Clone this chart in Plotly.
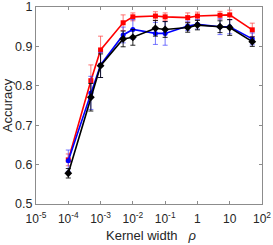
import plotly.graph_objects as go

kernel_width = [1e-4, 5e-4, 1e-3, 5e-3, 1e-2, 5e-2, 0.1, 0.5, 1, 5, 10, 50]

red_acc = [0.612, 0.813, 0.891, 0.960, 0.975, 0.977, 0.975, 0.973, 0.977, 0.979, 0.980, 0.942]
red_err = [0.015, 0.040, 0.035, 0.020, 0.010, 0.011, 0.010, 0.012, 0.010, 0.010, 0.012, 0.017]

blue_acc = [0.610, 0.782, 0.853, 0.929, 0.943, 0.933, 0.933, 0.952, 0.956, 0.950, 0.950, 0.919]
blue_err = [0.027, 0.042, 0.032, 0.020, 0.025, 0.028, 0.030, 0.012, 0.012, 0.020, 0.018, 0.015]

black_acc = [0.578, 0.771, 0.851, 0.919, 0.923, 0.946, 0.943, 0.948, 0.954, 0.950, 0.948, 0.912]
black_err = [0.012, 0.035, 0.030, 0.020, 0.020, 0.020, 0.020, 0.012, 0.012, 0.015, 0.020, 0.012]

x_tickvals = [1e-5, 1e-4, 1e-3, 1e-2, 1e-1, 1, 10, 100]
x_ticktext = ["10<sup>-5</sup>", "10<sup>-4</sup>", "10<sup>-3</sup>", "10<sup>-2</sup>",
              "10<sup>-1</sup>", "1", "10", "10<sup>2</sup>"]
y_tickvals = [0.5, 0.6, 0.7, 0.8, 0.9, 1.0]
y_ticktext = ["0.5", "0.6", "0.7", "0.8", "0.9", "1"]

fig = go.Figure()

series = [
    (red_acc, red_err, "#ff0000", "rgba(255,60,60,0.7)", "square", 5),
    (blue_acc, blue_err, "#0000ff", "rgba(60,60,255,0.7)", "circle", 5),
    (black_acc, black_err, "#000000", "rgba(0,0,0,0.85)", "diamond", 6),
]
for acc, err, col, ecol, sym, ms in series:
    fig.add_trace(go.Scatter(
        x=kernel_width, y=acc, mode="lines+markers",
        line=dict(color=col, width=1.6),
        marker=dict(symbol=sym, size=ms, color=col),
        error_y=dict(type="data", array=err, visible=True, color=ecol,
                     thickness=1, width=2.5),
        showlegend=False,
    ))

axis_col = "#8c8c8c"
fig.update_layout(
    width=273, height=245,
    margin=dict(l=36, r=11, t=7, b=41),
    paper_bgcolor="white", plot_bgcolor="white",
    font=dict(family="Liberation Sans, Arial, sans-serif", size=12, color="#262626"),
    xaxis=dict(
        type="log", range=[-5, 2],
        tickvals=x_tickvals, ticktext=x_ticktext,
        ticks="inside", ticklen=3, tickcolor=axis_col,
        showline=True, linecolor=axis_col, linewidth=1, mirror="ticks",
        showgrid=False, zeroline=False, automargin=False,
        ticklabeloverflow="allow", ticklabelstandoff=4,
        tickfont=dict(size=12),
    ),
    yaxis=dict(
        range=[0.5, 1.0],
        tickvals=y_tickvals, ticktext=y_ticktext,
        ticks="inside", ticklen=3, tickcolor=axis_col,
        showline=True, linecolor=axis_col, linewidth=1, mirror="ticks",
        showgrid=False, zeroline=False, automargin=False,
        ticklabeloverflow="allow",
        tickfont=dict(size=12.5),
        title=dict(text="Accuracy", font=dict(size=13), standoff=0),
    ),
    annotations=[dict(
        text="Kernel width   <i>ρ</i>", xref="paper", yref="paper",
        x=0.51, y=-0.162, xanchor="center", yanchor="middle",
        showarrow=False, font=dict(size=13),
    )],
)

fig.write_html("out.html", config={"displayModeBar": False},
               post_script="document.body.style.margin='0';document.body.style.overflow='hidden';")
